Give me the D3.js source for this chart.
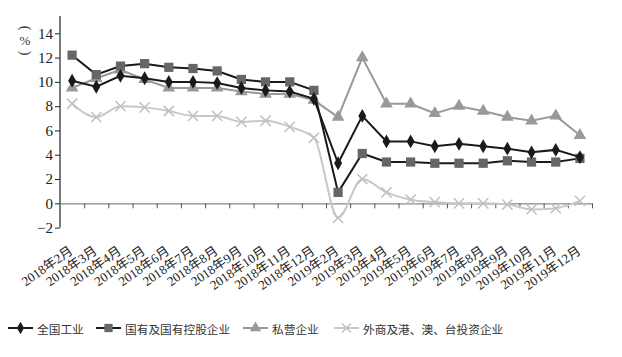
<!DOCTYPE html>
<html><head><meta charset="utf-8">
<script src="https://cdn.jsdelivr.net/npm/d3@7"></script>
<style>
html,body{margin:0;padding:0;background:#fff;}
svg{display:block;}
</style></head>
<body><svg id="c" width="622" height="357"></svg>
<script>
const categories = ["2018年2月","2018年3月","2018年4月","2018年5月","2018年6月","2018年7月","2018年8月","2018年9月","2018年10月","2018年11月","2018年12月",
"2019年2月","2019年3月","2019年4月","2019年5月","2019年6月","2019年7月","2019年8月","2019年9月","2019年10月","2019年11月","2019年12月"];
const national = [10.1,9.6,10.5,10.3,10.0,10.0,9.9,9.5,9.3,9.2,8.6, 3.3,7.2,5.1,5.1,4.7,4.9,4.7,4.5,4.2,4.4,3.8];
const stateOwned = [12.2,10.6,11.3,11.5,11.2,11.1,10.9,10.2,10.0,10.0,9.3, 0.9,4.1,3.4,3.4,3.3,3.3,3.3,3.5,3.4,3.4,3.7];
const privateEnt = [9.5,10.3,11.0,10.2,9.5,9.5,9.5,9.2,9.0,9.0,8.5, 7.1,12.0,8.2,8.2,7.4,8.0,7.6,7.1,6.8,7.2,5.6];
const foreignEnt = [8.2,7.1,8.0,7.9,7.6,7.2,7.2,6.7,6.8,6.3,5.4, -1.2,2.0,0.9,0.3,0.1,0.0,0.0,-0.1,-0.5,-0.4,0.2];
const seriesNames = ["全国工业","国有及国有控股企业","私营企业","外商及港、澳、台投资企业"];
const yTicks = [-2,0,2,4,6,8,10,12,14];

const svg = d3.select("#c");
const serif = "'Liberation Serif','DejaVu Serif',serif";
const cjk = "'Liberation Serif','Noto Sans CJK SC',serif";

const x = d3.scaleBand().domain(categories).range([60, 592]);
const y = d3.scaleLinear().domain([-2, 14]).range([227.6, 33.3]);

// y axis
const yAxis = svg.append("g").attr("transform","translate(60,0)")
  .call(d3.axisLeft(y).tickValues(yTicks).tickSize(5).tickSizeOuter(0).tickFormat(d => d < 0 ? "\u22122" : d));
yAxis.select(".domain").remove();
yAxis.selectAll(".tick line").attr("stroke","#222");
yAxis.selectAll(".tick text").attr("font-family", serif).attr("font-size", 15).attr("fill","#222").attr("x",-7);
svg.append("line").attr("x1",60).attr("x2",60).attr("y1",16).attr("y2",y(-2)).attr("stroke","#222").attr("stroke-width",1.2);

// y label (%) vertical
const lab = svg.append("g").attr("font-family", serif).attr("fill","#333");
lab.append("text").attr("transform","translate(25,28) rotate(90)").attr("text-anchor","middle").attr("dominant-baseline","central").attr("font-size",14).text("(");
lab.append("text").attr("x",25).attr("y",40).attr("text-anchor","middle").attr("dominant-baseline","central").attr("font-size",13).text("%");
lab.append("text").attr("transform","translate(25,53) rotate(90)").attr("text-anchor","middle").attr("dominant-baseline","central").attr("font-size",14).text(")");

// zero axis with boundary ticks
const xb = d3.scaleLinear().domain([0, categories.length]).range([60, 592]);
const zero = svg.append("g").attr("transform",`translate(0,${y(0)})`)
  .call(d3.axisBottom(xb).tickValues(d3.range(1, categories.length+1)).tickSize(5).tickSizeOuter(0).tickFormat(""));
zero.select(".domain").attr("stroke","#888").attr("stroke-width",1.2);
zero.selectAll(".tick line").attr("stroke","#555");

// category labels
const xl = svg.append("g").attr("transform","translate(0,254)")
  .call(d3.axisBottom(x).tickSize(0));
xl.select(".domain").remove();
xl.selectAll(".tick text").attr("font-family", cjk).attr("font-size", 13).attr("fill","#222")
  .attr("text-anchor","end").attr("dy",0).attr("y",0).attr("x",2)
  .attr("transform","rotate(-35)");

// series
const defs = [
  {vals: national, line:"#1a1a1a", mark:"#1a1a1a", sym:d3.symbolDiamond, size:55, stroke:false, curve:d3.curveLinear},
  {vals: stateOwned, line:"#1a1a1a", mark:"#666666", sym:d3.symbolSquare, size:85, stroke:false, curve:d3.curveLinear},
  {vals: privateEnt, line:"#999999", mark:"#999999", sym:d3.symbolTriangle, size:70, stroke:false, curve:d3.curveLinear},
  {vals: foreignEnt, line:"#c8c8c8", mark:"#c0c0c0", sym:d3.symbolX, size:70, stroke:true, curve:d3.curveMonotoneX}
];
const cx = d => x(d) + x.bandwidth()/2;
[3,2,1,0].forEach(i => {
  const s = defs[i];
  const pts = categories.map((c,j)=>[cx(c), y(s.vals[j])]);
  svg.append("path").attr("d", d3.line().curve(s.curve)(pts)).attr("fill","none")
    .attr("stroke", s.line).attr("stroke-width", 2);
  svg.append("g").selectAll("path").data(pts).join("path")
    .attr("transform", p => `translate(${p[0]},${p[1]})`)
    .attr("d", d3.symbol(s.sym, s.size))
    .attr("fill", s.stroke ? "none" : s.mark)
    .attr("stroke", s.stroke ? s.mark : "none").attr("stroke-width", 1.5);
});

// legend
const legX = [[8,33,37],[96,121,125],[243,268,272],[334,359,363]];
const ly = 328;
const lg = svg.append("g");
defs.forEach((s,i) => {
  const [a,b,t] = legX[i];
  lg.append("line").attr("x1",a).attr("x2",b).attr("y1",ly).attr("y2",ly).attr("stroke", s.line).attr("stroke-width",2);
  lg.append("path").attr("transform",`translate(${(a+b)/2},${ly})`).attr("d", d3.symbol(s.sym, s.size*0.8))
    .attr("fill", s.stroke ? "none" : s.mark).attr("stroke", s.stroke ? s.mark : "none").attr("stroke-width",1.5);
  lg.append("text").attr("x",t).attr("y",ly).attr("dominant-baseline","central")
    .attr("font-family","'Noto Sans CJK SC',sans-serif").attr("font-size",11.7).attr("fill","#333").text(seriesNames[i]);
});
</script></body></html>
